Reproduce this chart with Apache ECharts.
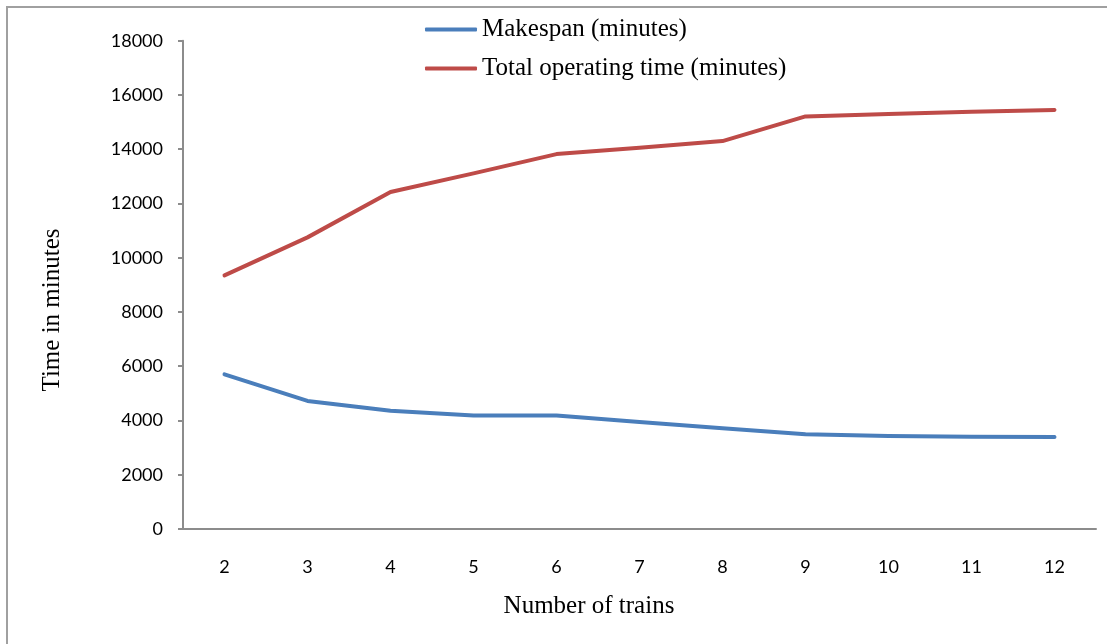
<!DOCTYPE html>
<html>
<head>
<meta charset="utf-8">
<script src="https://cdn.jsdelivr.net/npm/echarts@6/dist/echarts.min.js"></script>
<style>
html,body{margin:0;padding:0;background:#fff;}
#chart{width:1107px;height:644px;}
</style>
</head>
<body>
<div id="chart"></div>
<script>
var categories = ['2','3','4','5','6','7','8','9','10','11','12'];
var makespan = [5700, 4720, 4360, 4180, 4180, 3940, 3710, 3490, 3430, 3400, 3390];
var totalOperating = [9350, 10750, 12420, 13110, 13820, 14050, 14300, 15210, 15300, 15380, 15450];
var yTicks = { min: 0, max: 18000, interval: 2000 };
var seriesNames = ['Makespan (minutes)', 'Total operating time (minutes)'];
var xTitle = 'Number of trains';
var yTitle = 'Time in minutes';

var chart = echarts.init(document.getElementById('chart'), null, { renderer: 'canvas' });
var axisColor = '#8c8c8c';
var serif = '"Liberation Serif", "Times New Roman", serif';
var sans = 'Lato, "Open Sans", sans-serif';

chart.setOption({
  animation: false,
  backgroundColor: '#fff',
  grid: { left: 183, right: 11, top: 40.7, bottom: 115, containLabel: false },
  legend: {
    orient: 'vertical',
    left: 420,
    top: 12,
    itemWidth: 52,
    itemHeight: 4,
    itemGap: 14,
    icon: 'roundRect',
    textStyle: { fontFamily: serif, fontSize: 25, color: '#000', lineHeight: 24 },
    data: seriesNames
  },
  xAxis: {
    type: 'category',
    data: categories,
    boundaryGap: true,
    axisLine: { lineStyle: { color: axisColor, width: 2 } },
    axisTick: { show: false },
    axisLabel: { margin: 29, fontFamily: sans, fontSize: 18, color: '#000' },
    splitLine: { show: false }
  },
  yAxis: {
    type: 'value',
    min: yTicks.min,
    max: yTicks.max,
    interval: yTicks.interval,
    axisLine: { show: true, lineStyle: { color: axisColor, width: 2 } },
    axisTick: { show: true, inside: false, length: 5, lineStyle: { color: axisColor, width: 2 } },
    axisLabel: { margin: 20, fontFamily: sans, fontSize: 18, color: '#000',
      formatter: function (v) { return String(v); } },
    splitLine: { show: false }
  },
  series: [
    {
      name: seriesNames[0], type: 'line', data: makespan,
      symbol: 'none', smooth: false,
      lineStyle: { color: '#4A7EBB', width: 4, cap: 'round', join: 'round' },
      itemStyle: { color: '#4A7EBB' }
    },
    {
      name: seriesNames[1], type: 'line', data: totalOperating,
      symbol: 'none', smooth: false,
      lineStyle: { color: '#BE4B48', width: 4, cap: 'round', join: 'round' },
      itemStyle: { color: '#BE4B48' }
    }
  ],
  graphic: [
    {
      type: 'polyline', silent: true,
      shape: { points: [[7, 644], [7, 7], [1107, 7]] },
      style: { stroke: '#a0a0a0', lineWidth: 2, fill: null }
    },
    {
      type: 'text', silent: true,
      x: 589, y: 606,
      style: { text: xTitle, fontFamily: serif, fontSize: 25, fill: '#000', align: 'center', verticalAlign: 'middle' }
    },
    {
      type: 'text', silent: true,
      x: 52, y: 310, rotation: Math.PI / 2,
      style: { text: yTitle, fontFamily: serif, fontSize: 25, fill: '#000', align: 'center', verticalAlign: 'middle' }
    }
  ]
});
</script>
</body>
</html>
